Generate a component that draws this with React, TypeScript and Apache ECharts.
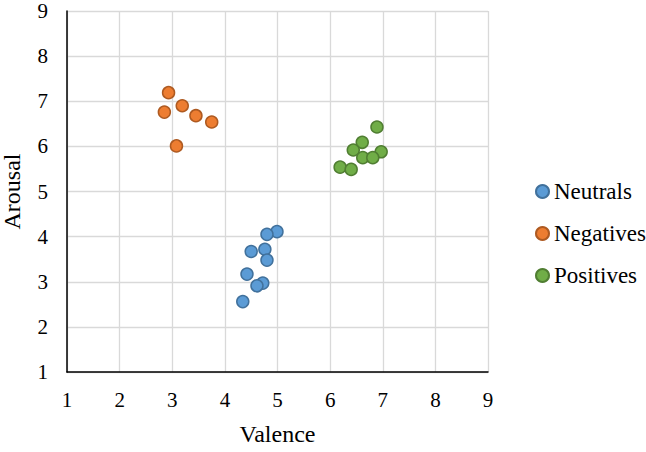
import React, { useEffect, useRef } from "react";
import * as echarts from "echarts";

const neutrals: [number, number][] = [
  [4.99, 4.11], [4.8, 4.05], [4.5, 3.67], [4.76, 3.72], [4.8, 3.48],
  [4.42, 3.17], [4.72, 2.97], [4.61, 2.91], [4.34, 2.56],
];
const negatives: [number, number][] = [
  [2.93, 7.19], [2.85, 6.76], [3.19, 6.9], [3.45, 6.68], [3.75, 6.54], [3.08, 6.01],
];
const positives: [number, number][] = [
  [6.89, 6.43], [6.61, 6.09], [6.44, 5.92], [6.97, 5.88], [6.62, 5.75],
  [6.81, 5.75], [6.19, 5.54], [6.4, 5.49],
];
const seriesNames = ["Neutrals", "Negatives", "Positives"];
const fills = ["#5B9BD5", "#ED7D31", "#70AD47"];
const borders = ["#41719C", "#AE5A21", "#507E32"];

const FONT = "'Liberation Serif', serif";

export default function App() {
  const ref = useRef<HTMLDivElement>(null);
  useEffect(() => {
    const chart = echarts.init(ref.current!, undefined, { renderer: "svg" });
    const datas = [neutrals, negatives, positives];
    chart.setOption({
      animation: false,
      backgroundColor: "#ffffff",
      grid: { left: 67, right: 158, top: 11, bottom: 80, outerBoundsMode: "none", containLabel: false },
      legend: {
        orient: "vertical",
        left: 530,
        top: 175,
        padding: 5,
        itemWidth: 13,
        itemHeight: 13,
        itemGap: 19,
        icon: "circle",
        textStyle: { fontFamily: FONT, fontSize: 23, color: "#000", lineHeight: 23 },
        data: seriesNames,
      },
      xAxis: {
        type: "value",
        min: 1,
        max: 9,
        interval: 1,
        name: "Valence",
        nameLocation: "middle",
        nameGap: 50,
        nameTextStyle: { fontFamily: FONT, fontSize: 24, color: "#000" },
        axisLine: { show: true, onZero: false, lineStyle: { color: "#000", width: 1.5 } },
        axisTick: { show: false },
        axisLabel: { fontFamily: FONT, fontSize: 21, color: "#000", margin: 17 },
        splitLine: { show: true, lineStyle: { color: "#d9d9d9", width: 1.3 } },
      },
      yAxis: {
        type: "value",
        min: 1,
        max: 9,
        interval: 1,
        name: "Arousal",
        nameLocation: "middle",
        nameGap: 43,
        nameTextStyle: { fontFamily: FONT, fontSize: 24, color: "#000" },
        axisLine: { show: true, onZero: false, lineStyle: { color: "#000", width: 1.5 } },
        axisTick: { show: false },
        axisLabel: { fontFamily: FONT, fontSize: 21, color: "#000", margin: 19 },
        splitLine: { show: true, lineStyle: { color: "#d9d9d9", width: 1.3 } },
      },
      series: seriesNames.map((name, i) => ({
        name,
        type: "scatter",
        symbol: "circle",
        symbolSize: 12,
        data: datas[i],
        itemStyle: { color: fills[i], borderColor: borders[i], borderWidth: 1.5, opacity: 1 },
      })),
    });
    return () => chart.dispose();
  }, []);
  return (
    <div
      ref={ref}
      style={{ position: "fixed", left: 0, top: 0, width: 646, height: 452 }}
    />
  );
}
